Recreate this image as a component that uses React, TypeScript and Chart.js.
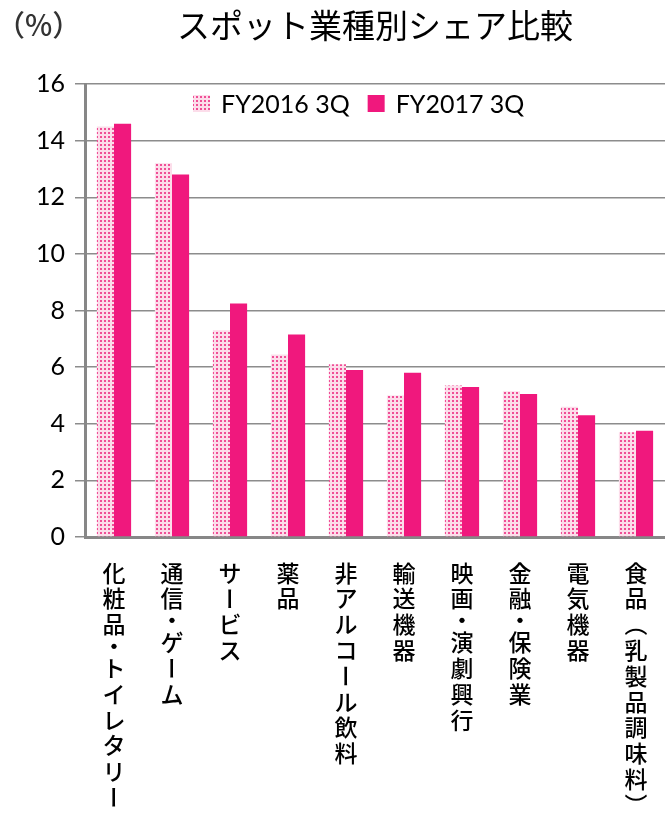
import React, { useEffect, useRef } from 'react';
import { Chart, registerables } from 'chart.js';

Chart.register(...registerables);

// ---- data ----
const categories = [
  '化粧品・トイレタリー',
  '通信・ゲーム',
  'サービス',
  '薬品',
  '非アルコール飲料',
  '輸送機器',
  '映画・演劇興行',
  '金融・保険業',
  '電気機器',
  '食品（乳製品調味料）',
];
const seriesLabels = ['FY2016 3Q', 'FY2017 3Q'];
const fy2016 = [14.5, 13.2, 7.3, 6.45, 6.1, 5.0, 5.35, 5.15, 4.6, 3.7];
const fy2017 = [14.6, 12.8, 8.25, 7.15, 5.9, 5.8, 5.3, 5.05, 4.3, 3.75];
const yMin = 0;
const yMax = 16;
const yStep = 2;
const chartTitle = 'スポット業種別シェア比較';
const unitLabel = '（%）';

// ---- styles ----
const PINK = '#F0187D';
const CJK = '"Noto Sans CJK JP", "Noto Sans", sans-serif';
const LATIN = 'Lato, "Noto Sans", sans-serif';
const AXIS = '#878787';
const GRID = '#8c8c8c';

function makePattern(ctx: CanvasRenderingContext2D) {
  const c = document.createElement('canvas');
  c.width = 4;
  c.height = 4;
  const g = c.getContext('2d')!;
  g.fillStyle = '#FCDDEA';
  g.fillRect(0, 0, 4, 4);
  g.fillStyle = '#F04E96';
  g.fillRect(0, 0, 2, 2);
  return ctx.createPattern(c, 'repeat') as CanvasPattern;
}

const decorPlugin = {
  id: 'decor',
  afterDraw(chart: any) {
    const { ctx, chartArea, scales } = chart;
    const xs = scales.x;
    ctx.save();

    // unit label
    ctx.font = `500 29px ${CJK}`;
    ctx.fillStyle = '#333';
    ctx.textAlign = 'left';
    ctx.textBaseline = 'middle';
    ctx.fillText(unitLabel, -4, 25);

    // vertical category labels
    ctx.font = `500 23px ${CJK}`;
    ctx.fillStyle = '#000';
    ctx.textAlign = 'center';
    ctx.textBaseline = 'middle';
    const fullPitch = 25.8;
    const dotPitch = 18;
    categories.forEach((label, i) => {
      const cx = xs.getPixelForValue(i);
      let top = chartArea.bottom + 23;
      for (const ch of Array.from(label)) {
        const p = ch === '・' ? dotPitch : fullPitch;
        const y = top + p / 2;
        if ('ー（）'.includes(ch)) {
          ctx.save();
          ctx.translate(cx, y);
          ctx.rotate(Math.PI / 2);
          ctx.fillText(ch, 0, 0);
          ctx.restore();
        } else {
          ctx.fillText(ch, cx, y);
        }
        top += p;
      }
    });

    // legend (drawn inside plot area)
    ctx.font = `25px ${LATIN}`;
    ctx.textAlign = 'left';
    ctx.textBaseline = 'middle';
    let lx = chartArea.left + 108;
    const boxTop = chartArea.top + 11;
    const box = 17;
    chart.data.datasets.forEach((ds: any) => {
      ctx.fillStyle = ds.backgroundColor;
      ctx.fillRect(lx, boxTop, box, box);
      ctx.fillStyle = '#000';
      ctx.fillText(ds.label, lx + 28, boxTop + box / 2 + 1);
      lx += 28 + ctx.measureText(ds.label).width + 18;
    });

    ctx.restore();
  },
};

export default function App() {
  const canvasRef = useRef<HTMLCanvasElement | null>(null);

  useEffect(() => {
    const canvas = canvasRef.current!;
    const ctx = canvas.getContext('2d')!;
    const pattern = makePattern(ctx);
    const chart = new Chart(canvas, {
      type: 'bar',
      data: {
        labels: categories,
        datasets: [
          {
            label: seriesLabels[0],
            data: fy2016,
            backgroundColor: pattern as any,
            categoryPercentage: 0.59,
            barPercentage: 1.0,
          },
          {
            label: seriesLabels[1],
            data: fy2017,
            backgroundColor: PINK,
            categoryPercentage: 0.59,
            barPercentage: 1.0,
          },
        ],
      },
      options: {
        responsive: false,
        animation: false,
        layout: { padding: 0 },
        plugins: {
          legend: { display: false },
          tooltip: { enabled: false },
          title: {
            display: true,
            text: chartTitle,
            fullSize: false,
            color: '#000',
            font: { family: CJK, size: 33, weight: 'normal', lineHeight: 1.2 },
            padding: { top: 6, bottom: 38.4 },
          },
        },
        scales: {
          x: {
            grid: { display: false },
            border: { display: true, color: AXIS, width: 3 },
            ticks: { display: false },
            afterFit: (s: any) => {
              s.height = 277;
            },
          },
          y: {
            min: yMin,
            max: yMax,
            ticks: {
              stepSize: yStep,
              color: '#000',
              font: { family: LATIN, size: 25 },
              padding: 10,
            },
            grid: { color: GRID, lineWidth: 1.5, tickLength: 10, drawTicks: true },
            border: { display: true, color: AXIS, width: 3 },
            afterFit: (s: any) => {
              s.width = 85;
            },
          },
        },
      } as any,
      plugins: [decorPlugin],
    });
    if ((document as any).fonts?.ready) {
      (document as any).fonts.ready.then(() => {
        try { chart.update(); } catch (e) {}
      });
    }
    return () => chart.destroy();
  }, []);

  return (
    <div style={{ position: 'fixed', left: 0, top: 0, width: 665, height: 814, background: '#fff' }}>
      <canvas ref={canvasRef} width={665} height={814} style={{ width: 665, height: 814, display: 'block' }} />
    </div>
  );
}
